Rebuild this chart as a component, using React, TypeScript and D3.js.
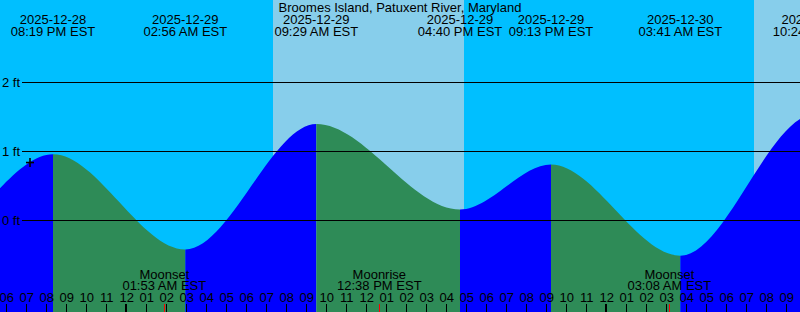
import React from "react";
import * as d3 from "d3";

const title = "Broomes Island, Patuxent River, Maryland";

// Tide extremes (local EST wall-clock time), heights in ft
const tideTimes = [
  "2025-12-28 07:50",
  "2025-12-28 14:05",
  "2025-12-28 20:19",
  "2025-12-29 02:56",
  "2025-12-29 09:29",
  "2025-12-29 16:40",
  "2025-12-29 21:13",
  "2025-12-30 03:41",
  "2025-12-30 10:24",
  "2025-12-30 16:50",
];
const tideHeights = [1.3, -0.31, 0.96, -0.42, 1.4, 0.16, 0.81, -0.51, 1.54, 0.02];

// Daylight spans
const dayStarts = ["2025-12-29 07:19", "2025-12-30 07:22"];
const dayEnds = ["2025-12-29 16:52", "2025-12-30 16:52"];

// Moon events
const moonTimes = ["2025-12-29 01:53", "2025-12-29 12:38", "2025-12-30 03:08"];
const moonKinds = ["Moonset", "Moonrise", "Moonset"];

// Current-time marker
const markerTime = "2025-12-28 19:10";
const markerHeight = 0.84;

// Axis
const domainStart = "2025-12-28 17:40";
const domainEnd = "2025-12-30 09:40";
const feetTicks = [0, 1, 2];

const W = 800;
const H = 312;
const FONT = "'Liberation Sans', Arial, sans-serif";

const parse = d3.utcParse("%Y-%m-%d %H:%M");

export default function App() {
  const x = d3
    .scaleUtc()
    .domain([parse(domainStart)!, parse(domainEnd)!])
    .range([0, W]);
  const y = d3.scaleLinear().domain([0, 2]).range([220.5, 82.5]);

  const pts = tideTimes.map((t, i) => ({ t: parse(t)!, h: tideHeights[i] }));
  const area = d3
    .area<{ t: Date; h: number }>()
    .x((d) => x(d.t))
    .y0(H)
    .y1((d) => y(d.h))
    .curve(d3.curveMonotoneX);
  const areaPath = area(pts) || "";

  const fmtDate = d3.utcFormat("%Y-%m-%d");
  const fmtTime = d3.utcFormat("%I:%M %p EST");
  const fmtHour = d3.utcFormat("%I");

  const hours = x.ticks(d3.utcHour.every(1)!);
  const labeled = pts.filter((p) => x(p.t) > -40 && x(p.t) < W + 40);

  return (
    <svg
      width={W}
      height={H}
      style={{ position: "absolute", left: 0, top: 0, display: "block" }}
      fontFamily={FONT}
    >
      <defs>
        {pts.slice(0, -1).map((p, i) => (
          <clipPath id={`seg${i}`} key={i}>
            <rect
              x={x(p.t)}
              y={0}
              width={x(pts[i + 1].t) - x(p.t)}
              height={H}
            />
          </clipPath>
        ))}
      </defs>
      <rect x={0} y={0} width={W} height={H} fill="#00BFFF" />
      {dayStarts.map((s, i) => (
        <rect
          key={i}
          x={x(parse(s)!)}
          y={0}
          width={x(parse(dayEnds[i])!) - x(parse(s)!)}
          height={H}
          fill="#87CEEB"
        />
      ))}
      {pts.slice(0, -1).map((p, i) => (
        <path
          key={i}
          d={areaPath}
          clipPath={`url(#seg${i})`}
          fill={pts[i + 1].h > p.h ? "#0000FF" : "#2E8B57"}
        />
      ))}
      {feetTicks.map((f) => (
        <g key={f}>
          <line x1={22} x2={W} y1={y(f)} y2={y(f)} stroke="#000" strokeWidth={1} />
          <text x={20} y={y(f) + 4} fontSize={13} textAnchor="end" fill="#000">
            {`${f} ft`}
          </text>
        </g>
      ))}
      <text x={W / 2} y={11.5} fontSize={13} textAnchor="middle" fill="#000">
        {title}
      </text>
      {labeled.map((p, i) => (
        <g key={i}>
          <text x={x(p.t)} y={23.5} fontSize={13} textAnchor="middle" fill="#000">
            {fmtDate(p.t)}
          </text>
          <text x={x(p.t)} y={35.5} fontSize={13} textAnchor="middle" fill="#000">
            {fmtTime(p.t)}
          </text>
        </g>
      ))}
      {moonTimes.map((m, i) => {
        const t = parse(m)!;
        return (
          <g key={i}>
            <text x={x(t)} y={278.5} fontSize={13} textAnchor="middle" fill="#000">
              {moonKinds[i]}
            </text>
            <text x={x(t)} y={289.5} fontSize={13} textAnchor="middle" fill="#000">
              {fmtTime(t)}
            </text>
          </g>
        );
      })}
      {hours.map((h, i) => {
        const px = Math.floor(x(h));
        const midnight = h.getUTCHours() === 0;
        return (
          <g key={i}>
            <text x={x(h)} y={302} fontSize={13} textAnchor="middle" fill="#000">
              {fmtHour(h)}
            </text>
            <rect
              x={midnight ? px - 1 : px}
              y={304}
              width={midnight ? 2 : 1}
              height={8}
              fill="#000"
            />
          </g>
        );
      })}
      {moonTimes.map((m, i) => (
        <rect
          key={i}
          x={Math.floor(x(parse(m)!))}
          y={304}
          width={1}
          height={8}
          fill="#FF0000"
        />
      ))}
      <g
        transform={`translate(${x(parse(markerTime)!)},${y(markerHeight)})`}
        stroke="#000"
        strokeWidth={1.6}
      >
        <line x1={-4} x2={4} y1={0} y2={0} />
        <line x1={0} x2={0} y1={-4.5} y2={4.5} />
      </g>
    </svg>
  );
}
